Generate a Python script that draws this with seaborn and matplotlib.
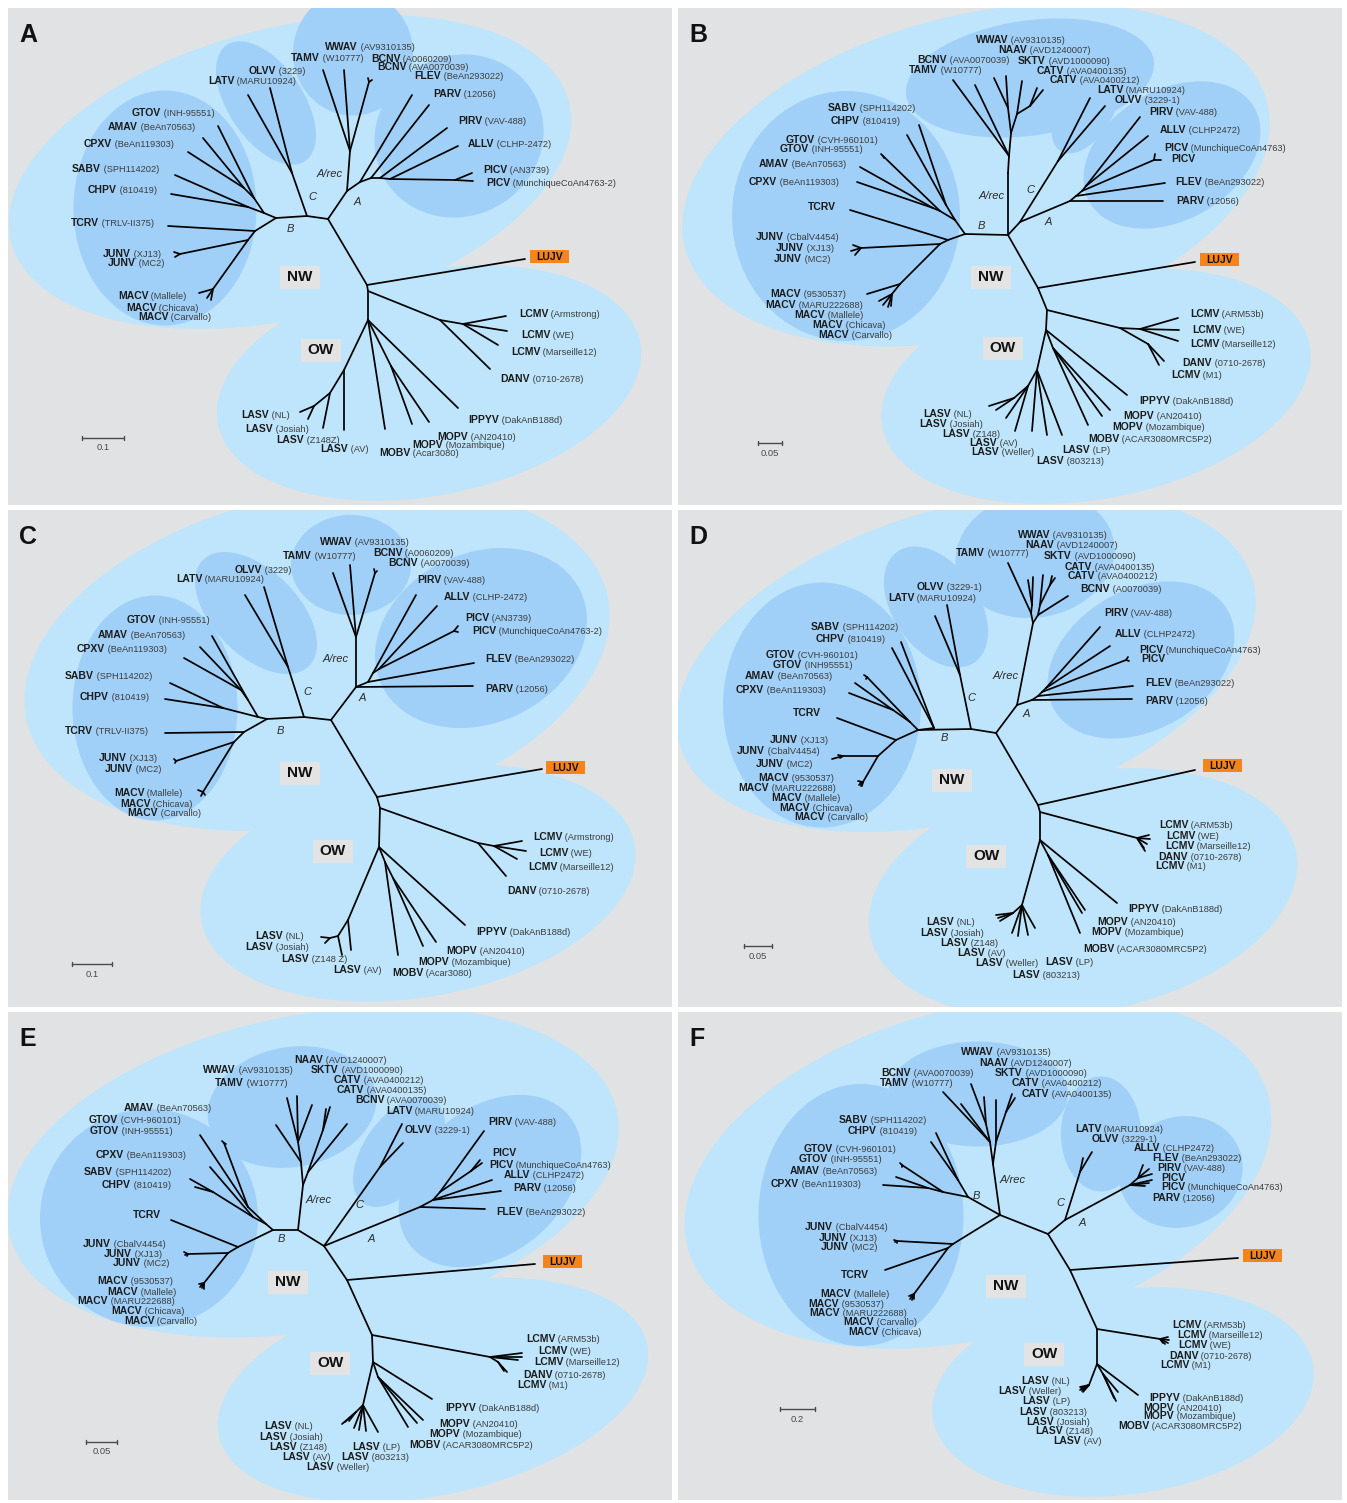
import matplotlib
matplotlib.use("Agg")
import matplotlib.pyplot as plt
from matplotlib.patches import Ellipse, Rectangle
import pandas as pd
import seaborn as sns

sns.set_style("white")
plt.rcParams["font.family"] = ["Liberation Sans", "DejaVu Sans"]

# ---------------------------------------------------------------------------
# Tree layouts: (node, parent, x, y) in panel pixel units (y grows downward)
# ---------------------------------------------------------------------------
TREE_A = [
    ("r", None, 359, 277), ("LUJV", "r", 517, 251), ("x", "r", 320, 211),
    ("cn", "x", 299, 208), ("bn", "cn", 268, 210), ("c1", "cn", 284, 165),
    ("OLVV", "c1", 262, 80), ("LATV", "c1", 240, 87),
    ("an", "x", 339, 183), ("ar", "an", 342, 143),
    ("TAMV", "ar", 315, 62), ("WWAV", "ar", 336, 62), ("bc", "ar", 361, 74),
    ("BCNV1", "bc", 360, 70), ("BCNV2", "bc", 364, 72),
    ("a1", "an", 352, 174), ("FLEV", "a1", 404, 87), ("a2", "a1", 363, 170),
    ("PARV", "a2", 421, 97), ("a3", "a2", 372, 170), ("PIRV", "a3", 439, 120),
    ("a4", "a3", 382, 171), ("ALLV", "a4", 450, 138), ("pc", "a4", 447, 172),
    ("PICV1", "pc", 464, 165), ("PICV2", "pc", 465, 173),
    ("bu", "bn", 256, 205), ("bu1", "bu", 240, 199),
    ("SABV", "bu1", 167, 167), ("CHPV", "bu1", 163, 186),
    ("bu2", "bu", 246, 190), ("GTOV", "bu2", 210, 118), ("bu3", "bu2", 236, 180),
    ("AMAV", "bu3", 195, 130), ("CPXV", "bu3", 180, 144),
    ("bl", "bn", 247, 223), ("TCRV", "bl", 160, 218), ("bl2", "bl", 240, 232),
    ("ju", "bl2", 172, 246), ("JUNV1", "ju", 166, 244), ("JUNV2", "ju", 167, 249),
    ("ma", "bl2", 205, 281), ("MACV1", "ma", 191, 285), ("MACV2", "ma", 199, 290),
    ("MACV3", "ma", 203, 292),
    ("o1", "r", 360, 283), ("lc", "o1", 432, 312), ("DANV", "lc", 482, 361),
    ("lc2", "lc", 455, 316), ("LCMV1", "lc2", 498, 308), ("LCMV2", "lc2", 499, 323),
    ("LCMV3", "lc2", 490, 337),
    ("o2", "o1", 360, 312), ("IPPYV", "o2", 450, 400), ("mp", "o2", 383, 358),
    ("MOPV1", "mp", 404, 416), ("MOPV2", "mp", 421, 414), ("MOBV", "o2", 377, 421),
    ("l1", "o2", 336, 362), ("LASV1", "l1", 336, 422), ("l2", "l1", 322, 385),
    ("LASV2", "l2", 315, 420), ("l3", "l2", 306, 398),
    ("LASV3", "l3", 292, 404), ("LASV4", "l3", 300, 411),
]

TREE_B = [
    ("r", None, 360, 280), ("LUJV", "r", 517, 254), ("x", "r", 330, 227),
    ("bn", "x", 287, 226), ("ar", "x", 330, 165), ("ar1", "ar", 331, 148),
    ("TAMV", "ar1", 275, 72), ("BCNV", "ar1", 297, 77), ("ar2", "ar1", 333, 125),
    ("ar3", "ar2", 330, 100), ("WWAV", "ar3", 316, 70), ("NAAV", "ar3", 328, 68),
    ("ar4", "ar2", 339, 106), ("SKTV", "ar4", 344, 73), ("ct", "ar4", 352, 98),
    ("CATV1", "ct", 359, 80), ("CATV2", "ct", 365, 82),
    ("ca", "x", 342, 214), ("cn", "ca", 380, 153),
    ("LATV", "cn", 412, 90), ("OLVV", "cn", 427, 98),
    ("an", "ca", 392, 193), ("PARV", "an", 485, 193), ("a1", "an", 398, 188),
    ("FLEV", "a1", 487, 175), ("a2", "a1", 404, 183), ("pc", "a2", 476, 152),
    ("PICV1", "pc", 477, 146), ("PICV2", "pc", 483, 152), ("a3", "a2", 408, 178),
    ("ALLV", "a3", 470, 128), ("PIRV", "a3", 462, 109),
    ("bu", "bn", 277, 212), ("bu1", "bu", 268, 197),
    ("CHPV", "bu1", 241, 117), ("SABV", "bu1", 229, 127),
    ("bu2", "bu", 262, 203), ("gt", "bu2", 205, 148),
    ("GTOV1", "gt", 203, 146), ("GTOV2", "gt", 206, 150),
    ("bu3", "bu2", 255, 200), ("AMAV", "bu3", 182, 159), ("CPXV", "bu3", 179, 174),
    ("bl", "bn", 270, 232), ("TCRV", "bl", 172, 202), ("bl2", "bl", 262, 236),
    ("ju", "bl2", 183, 240), ("JUNV1", "ju", 175, 237), ("JUNV2", "ju", 173, 243),
    ("JUNV3", "ju", 177, 247),
    ("m1", "bl2", 222, 276), ("MACV1", "m1", 189, 286), ("m2", "m1", 214, 286),
    ("MACV2", "m2", 201, 293), ("MACV3", "m2", 205, 297), ("MACV4", "m2", 210, 299),
    ("MACV5", "m2", 213, 298),
    ("o1", "r", 369, 302), ("lc", "o1", 442, 320), ("lc2", "lc", 462, 321),
    ("LCMV1", "lc2", 500, 310), ("LCMV2", "lc2", 501, 322), ("LCMV3", "lc2", 500, 333),
    ("dm", "lc", 470, 336), ("DANV", "dm", 486, 353), ("LCMV4", "dm", 481, 357),
    ("o2", "o1", 368, 322), ("IPPYV", "o2", 449, 387), ("mp", "o2", 375, 340),
    ("MOPV1", "mp", 432, 402), ("MOPV2", "mp", 424, 408), ("MOBV", "mp", 410, 417),
    ("l", "o2", 359, 362), ("LASV1", "l", 384, 427), ("LASV2", "l", 369, 427),
    ("LASV3", "l", 354, 423), ("l2", "l", 350, 378), ("LASV4", "l2", 337, 423),
    ("LASV5", "l2", 328, 410), ("l3", "l2", 336, 390),
    ("LASV6", "l3", 318, 402), ("LASV7", "l3", 311, 398),
]

TREE_C = [
    ("r", None, 369, 287), ("LUJV", "r", 534, 259), ("x", "r", 323, 210),
    ("cn", "x", 296, 207), ("bn", "cn", 259, 209), ("c1", "cn", 280, 157),
    ("LATV", "c1", 237, 85), ("OLVV", "c1", 256, 77),
    ("an", "x", 348, 177), ("ar", "an", 348, 127),
    ("TAMV", "ar", 325, 63), ("WWAV", "ar", 342, 55), ("bc", "ar", 367, 63),
    ("BCNV1", "bc", 366, 59), ("BCNV2", "bc", 369, 61),
    ("PARV", "an", 465, 176), ("a1", "an", 360, 172), ("FLEV", "a1", 466, 153),
    ("a2", "a1", 365, 163), ("PIRV", "a2", 408, 85), ("a3", "a2", 371, 159),
    ("ALLV", "a3", 429, 96), ("pc", "a3", 446, 121),
    ("PICV1", "pc", 450, 116), ("PICV2", "pc", 450, 122),
    ("bu", "bn", 250, 207), ("bu1", "bu", 215, 198),
    ("SABV", "bu1", 162, 173), ("CHPV", "bu1", 157, 189),
    ("bu2", "bu", 240, 190), ("GTOV", "bu2", 204, 126), ("bu3", "bu2", 233, 180),
    ("AMAV", "bu3", 192, 137), ("CPXV", "bu3", 176, 148),
    ("bl", "bn", 236, 222), ("TCRV", "bl", 157, 223), ("bl2", "bl", 226, 232),
    ("ju", "bl2", 168, 251), ("JUNV1", "ju", 166, 249), ("JUNV2", "ju", 167, 253),
    ("ma", "bl2", 195, 282), ("MACV1", "ma", 190, 280), ("MACV2", "ma", 193, 286),
    ("MACV3", "ma", 197, 285),
    ("o1", "r", 372, 298), ("lc", "o1", 470, 333), ("DANV", "lc", 498, 366),
    ("lc2", "lc", 486, 336), ("LCMV1", "lc2", 514, 331), ("LCMV2", "lc2", 518, 341),
    ("LCMV3", "lc2", 509, 349),
    ("o2", "o1", 371, 337), ("IPPYV", "o2", 457, 415), ("mp", "o2", 377, 352),
    ("MOBV", "mp", 390, 445), ("mp2", "mp", 385, 368),
    ("MOPV1", "mp2", 428, 432), ("MOPV2", "mp2", 415, 436),
    ("l1", "o2", 340, 410), ("LASV1", "l1", 343, 440), ("l2", "l1", 330, 426),
    ("LASV2", "l2", 334, 445), ("l3", "l2", 322, 428),
    ("LASV3", "l3", 313, 427), ("LASV4", "l3", 317, 433),
]

TREE_D = [
    ("r", None, 360, 295), ("LUJV", "r", 517, 260), ("x", "r", 318, 223),
    ("cn", "x", 293, 219), ("bn", "cn", 240, 220), ("c1", "cn", 282, 165),
    ("OLVV", "c1", 269, 95), ("LATV", "c1", 257, 106),
    ("an", "x", 339, 195), ("ar", "an", 355, 113), ("ar1", "ar", 353, 103),
    ("TAMV", "ar1", 330, 53), ("ar2", "ar1", 354, 95),
    ("WWAV", "ar2", 350, 70), ("NAAV", "ar2", 355, 67),
    ("ar3", "ar", 360, 105), ("BCNV", "ar3", 390, 86), ("ar4", "ar3", 362, 95),
    ("SKTV", "ar4", 365, 65), ("ct", "ar4", 372, 75),
    ("CATV1", "ct", 374, 66), ("CATV2", "ct", 377, 68),
    ("a1", "an", 354, 190), ("PARV", "a1", 454, 189), ("a2", "a1", 360, 186),
    ("FLEV", "a2", 455, 176), ("a3", "a2", 364, 182), ("pc", "a3", 448, 150),
    ("PICV1", "pc", 450, 147), ("PICV2", "pc", 451, 151), ("a4", "a3", 368, 178),
    ("ALLV", "a4", 432, 136), ("PIRV", "a4", 422, 117),
    ("sc", "bn", 256, 218), ("SABV", "sc", 223, 132), ("CHPV", "sc", 214, 138),
    ("bu", "bn", 232, 212), ("gt", "bu", 189, 167),
    ("GTOV1", "gt", 186, 165), ("GTOV2", "gt", 188, 169),
    ("bu2", "bu", 215, 200), ("AMAV", "bu2", 177, 173), ("CPXV", "bu2", 171, 183),
    ("bl", "bn", 218, 230), ("TCRV", "bl", 159, 208), ("bl2", "bl", 200, 246),
    ("ju", "bl2", 165, 246), ("JUNV1", "ju", 154, 249), ("JUNV2", "ju", 160, 245),
    ("JUNV3", "ju", 162, 248),
    ("ma", "bl2", 185, 272), ("MACV1", "ma", 180, 271), ("MACV2", "ma", 181, 275),
    ("MACV3", "ma", 183, 276), ("MACV4", "ma", 184, 276), ("MACV5", "ma", 182, 273),
    ("o1", "r", 362, 302), ("lc", "o1", 459, 328),
    ("LCMV1", "lc", 471, 325), ("LCMV2", "lc", 472, 329), ("LCMV3", "lc", 469, 334),
    ("DANV", "lc", 466, 338), ("LCMV4", "lc", 467, 341),
    ("o2", "o1", 362, 330), ("IPPYV", "o2", 439, 393), ("mp", "o2", 370, 345),
    ("MOPV1", "mp", 407, 400), ("MOPV2", "mp", 404, 403), ("MOBV", "mp", 402, 423),
    ("l", "o2", 344, 395), ("LASV1", "l", 357, 418), ("LASV2", "l", 350, 425),
    ("LASV3", "l", 340, 426), ("LASV4", "l", 334, 423), ("l2", "l", 335, 403),
    ("LASV5", "l2", 322, 411), ("LASV6", "l2", 320, 408), ("LASV7", "l2", 318, 405),
]

TREE_E = [
    ("r", None, 339, 268), ("LUJV", "r", 527, 252), ("x", "r", 316, 234),
    ("cn", "x", 290, 218), ("bn", "cn", 265, 218), ("ar", "cn", 295, 173),
    ("ar1", "ar", 293, 150), ("TAMV", "ar1", 268, 113), ("ar2", "ar1", 290, 130),
    ("WWAV", "ar2", 279, 86), ("NAAV", "ar2", 289, 84), ("SKTV", "ar2", 304, 93),
    ("ar3", "ar", 300, 160), ("ct", "ar3", 315, 118),
    ("CATV1", "ct", 318, 97), ("CATV2", "ct", 322, 95), ("BCNV", "ar3", 339, 112),
    ("cc", "x", 372, 155), ("LATV", "cc", 394, 112), ("OLVV", "cc", 395, 131),
    ("an", "x", 412, 195), ("FLEV", "an", 477, 197), ("a1", "an", 425, 188),
    ("PARV", "a1", 493, 179), ("ALLV", "a1", 484, 168), ("a2", "a1", 432, 180),
    ("pc", "a2", 463, 159), ("PICV1", "pc", 472, 148), ("PICV2", "pc", 474, 151),
    ("PIRV", "a2", 476, 119),
    ("bu", "bn", 258, 212), ("bu1", "bu", 240, 195), ("AMAV", "bu1", 192, 123),
    ("gt", "bu1", 216, 131), ("GTOV1", "gt", 214, 129), ("GTOV2", "gt", 218, 132),
    ("bu2", "bu", 245, 205), ("CPXV", "bu2", 202, 155), ("sc", "bu2", 205, 180),
    ("SABV", "sc", 182, 167), ("CHPV", "sc", 187, 175),
    ("bl", "bn", 230, 235), ("TCRV", "bl", 163, 208), ("bl2", "bl", 220, 241),
    ("ju", "bl2", 180, 242), ("JUNV1", "ju", 176, 240), ("JUNV2", "ju", 177, 243),
    ("JUNV3", "ju", 179, 244),
    ("ma", "bl2", 196, 271), ("MACV1", "ma", 191, 272), ("MACV2", "ma", 192, 275),
    ("MACV3", "ma", 194, 276), ("MACV4", "ma", 196, 277), ("MACV5", "ma", 193, 273),
    ("o1", "r", 364, 323), ("lc", "o1", 482, 345),
    ("LCMV1", "lc", 514, 341), ("LCMV2", "lc", 514, 345), ("LCMV3", "lc", 510, 348),
    ("dm", "lc", 490, 350), ("DANV", "dm", 499, 360), ("LCMV4", "dm", 496, 359),
    ("o2", "o1", 365, 350), ("IPPYV", "o2", 424, 387), ("mp", "o2", 370, 365),
    ("MOPV1", "mp", 415, 408), ("MOPV2", "mp", 409, 411), ("MOBV", "mp", 400, 415),
    ("l", "o2", 355, 393), ("LASV1", "l", 370, 420), ("LASV2", "l", 358, 419),
    ("LASV3", "l", 351, 418), ("LASV4", "l", 346, 416), ("l2", "l", 348, 400),
    ("LASV5", "l2", 334, 412), ("LASV6", "l2", 337, 410), ("LASV7", "l2", 341, 409),
]

TREE_F = [
    ("r", None, 392, 258), ("LUJV", "r", 560, 246), ("x", "r", 370, 222),
    ("bn", "x", 322, 203), ("ar", "bn", 315, 152), ("ar1", "ar", 312, 130),
    ("TAMV", "ar1", 265, 80), ("BCNV", "ar1", 283, 92), ("ar2", "ar1", 308, 112),
    ("WWAV", "ar2", 293, 72), ("NAAV", "ar2", 306, 85),
    ("ar3", "ar", 318, 130), ("SKTV", "ar3", 318, 88), ("ct", "ar3", 328, 100),
    ("CATV1", "ct", 334, 82), ("CATV2", "ct", 337, 86),
    ("ca", "x", 387, 208), ("cn", "ca", 402, 160),
    ("LATV", "cn", 414, 140), ("OLVV", "cn", 405, 146),
    ("an", "ca", 452, 173), ("a1", "an", 460, 166),
    ("ALLV", "a1", 465, 153), ("FLEV", "a1", 471, 157), ("PIRV", "a1", 474, 162),
    ("PICV1", "an", 474, 168), ("PICV2", "an", 471, 171), ("PARV", "an", 467, 174),
    ("bu", "bn", 290, 185), ("sc", "bu", 280, 168),
    ("SABV", "sc", 258, 121), ("CHPV", "sc", 253, 130),
    ("bu2", "bu", 265, 180), ("gt", "bu2", 224, 153),
    ("GTOV1", "gt", 222, 151), ("GTOV2", "gt", 224, 155),
    ("bu3", "bu2", 250, 176), ("AMAV", "bu3", 218, 165), ("CPXV", "bu3", 205, 173),
    ("bl", "bn", 275, 232), ("ju", "bl", 219, 229),
    ("JUNV1", "ju", 216, 228), ("JUNV2", "ju", 217, 230), ("JUNV3", "ju", 219, 231),
    ("bl2", "bl", 270, 236), ("TCRV", "bl2", 207, 258), ("ma", "bl2", 236, 282),
    ("MACV1", "ma", 231, 284), ("MACV2", "ma", 232, 287), ("MACV3", "ma", 234, 288),
    ("MACV4", "ma", 236, 287), ("MACV5", "ma", 233, 285),
    ("o1", "r", 419, 317), ("lc", "o1", 482, 327),
    ("LCMV1", "lc", 490, 325), ("LCMV2", "lc", 491, 328), ("LCMV3", "lc", 490, 331),
    ("DANV", "lc", 487, 332), ("LCMV4", "lc", 485, 331),
    ("o2", "o1", 419, 352), ("IPPYV", "o2", 460, 383), ("mp", "o2", 425, 362),
    ("MOPV1", "mp", 438, 389), ("MOPV2", "mp", 436, 386), ("MOBV", "mp", 440, 380),
    ("l", "o2", 411, 373), ("LASV1", "l", 402, 378), ("LASV2", "l", 403, 376),
    ("LASV3", "l", 404, 379), ("LASV4", "l", 405, 380), ("LASV5", "l", 402, 375),
    ("LASV6", "l", 406, 378), ("LASV7", "l", 404, 377),
]

# ---------------------------------------------------------------------------
# Tip labels: (virus, strain, x of label start, y of label line)
# ---------------------------------------------------------------------------
LABELS_A = [
    ("WWAV", "AV9310135", 317, 39), ("TAMV", "W10777", 283, 50),
    ("BCNV", "A0060209", 363, 51), ("BCNV", "AVA0070039", 369, 59),
    ("OLVV", "3229", 241, 63), ("LATV", "MARU10924", 200, 73),
    ("FLEV", "BeAn293022", 406, 68), ("PARV", "12056", 425, 86),
    ("PIRV", "VAV-488", 450, 113), ("ALLV", "CLHP-2472", 460, 136),
    ("PICV", "AN3739", 475, 162), ("PICV", "MunchiqueCoAn4763-2", 478, 175),
    ("GTOV", "INH-95551", 124, 105), ("AMAV", "BeAn70563", 100, 119),
    ("CPXV", "BeAn119303", 76, 136), ("SABV", "SPH114202", 64, 161),
    ("CHPV", "810419", 80, 182), ("TCRV", "TRLV-II375", 63, 215),
    ("JUNV", "XJ13", 95, 246), ("JUNV", "MC2", 100, 255),
    ("MACV", "Mallele", 110, 288), ("MACV", "Chicava", 118, 300),
    ("MACV", "Carvallo", 130, 309),
    ("LCMV", "Armstrong", 511, 306), ("LCMV", "WE", 513, 327),
    ("LCMV", "Marseille12", 503, 344), ("DANV", "0710-2678", 492, 371),
    ("IPPYV", "DakAnB188d", 460, 412), ("MOPV", "AN20410", 429, 429),
    ("MOPV", "Mozambique", 404, 437), ("MOBV", "Acar3080", 371, 445),
    ("LASV", "NL", 233, 407), ("LASV", "Josiah", 237, 421),
    ("LASV", "Z148Z", 268, 432), ("LASV", "AV", 312, 441),
]

LABELS_B = [
    ("WWAV", "AV9310135", 298, 32), ("NAAV", "AVD1240007", 320, 42),
    ("BCNV", "AVA0070039", 239, 52), ("SKTV", "AVD1000090", 340, 53),
    ("TAMV", "W10777", 231, 62), ("CATV", "AVA0400135", 359, 63),
    ("CATV", "AVA0400212", 372, 72), ("LATV", "MARU10924", 419, 82),
    ("OLVV", "3229-1", 437, 92), ("PIRV", "VAV-488", 471, 104),
    ("ALLV", "CLHP2472", 482, 122), ("PICV", "MunchiqueCoAn4763", 486, 140),
    ("PICV", "", 493, 151), ("FLEV", "BeAn293022", 497, 174),
    ("PARV", "12056", 498, 193),
    ("SABV", "SPH114202", 150, 100), ("CHPV", "810419", 153, 113),
    ("GTOV", "CVH-960101", 108, 132), ("GTOV", "INH-95551", 102, 141),
    ("AMAV", "BeAn70563", 81, 156), ("CPXV", "BeAn119303", 71, 174),
    ("TCRV", "", 130, 199), ("JUNV", "CbalV4454", 78, 229),
    ("JUNV", "XJ13", 98, 240), ("JUNV", "MC2", 96, 251),
    ("MACV", "9530537", 92, 286), ("MACV", "MARU222688", 87, 297),
    ("MACV", "Mallele", 116, 307), ("MACV", "Chicava", 134, 317),
    ("MACV", "Carvallo", 140, 327),
    ("LCMV", "ARM53b", 512, 306), ("LCMV", "WE", 514, 322),
    ("LCMV", "Marseille12", 512, 336), ("DANV", "0710-2678", 504, 355),
    ("LCMV", "M1", 493, 367), ("IPPYV", "DakAnB188d", 461, 393),
    ("MOPV", "AN20410", 445, 408), ("MOPV", "Mozambique", 434, 419),
    ("MOBV", "ACAR3080MRC5P2", 410, 431),
    ("LASV", "NL", 245, 406), ("LASV", "Josiah", 241, 416),
    ("LASV", "Z148", 264, 426), ("LASV", "AV", 291, 435),
    ("LASV", "Weller", 293, 444), ("LASV", "LP", 384, 442),
    ("LASV", "803213", 358, 453),
]

LABELS_C = [
    ("WWAV", "AV9310135", 312, 32), ("TAMV", "W10777", 275, 46),
    ("BCNV", "A0060209", 365, 43), ("BCNV", "A0070039", 380, 53),
    ("OLVV", "3229", 227, 60), ("LATV", "MARU10924", 168, 69),
    ("PIRV", "VAV-488", 409, 70), ("ALLV", "CLHP-2472", 436, 87),
    ("PICV", "AN3739", 457, 108), ("PICV", "MunchiqueCoAn4763-2", 464, 121),
    ("FLEV", "BeAn293022", 477, 149), ("PARV", "12056", 477, 179),
    ("GTOV", "INH-95551", 119, 110), ("AMAV", "BeAn70563", 90, 125),
    ("CPXV", "BeAn119303", 69, 139), ("SABV", "SPH114202", 57, 166),
    ("CHPV", "810419", 72, 187), ("TCRV", "TRLV-II375", 57, 221),
    ("JUNV", "XJ13", 91, 248), ("JUNV", "MC2", 97, 259),
    ("MACV", "Mallele", 106, 283), ("MACV", "Chicava", 112, 294),
    ("MACV", "Carvallo", 119, 303),
    ("LCMV", "Armstrong", 525, 327), ("LCMV", "WE", 531, 343),
    ("LCMV", "Marseille12", 520, 357), ("DANV", "0710-2678", 499, 381),
    ("IPPYV", "DakAnB188d", 468, 422), ("MOPV", "AN20410", 438, 441),
    ("MOPV", "Mozambique", 410, 452), ("MOBV", "Acar3080", 384, 463),
    ("LASV", "NL", 247, 426), ("LASV", "Josiah", 237, 437),
    ("LASV", "Z148 Z", 273, 449), ("LASV", "AV", 325, 460),
]

LABELS_D = [
    ("WWAV", "AV9310135", 340, 25), ("NAAV", "AVD1240007", 347, 35),
    ("TAMV", "W10777", 278, 43), ("SKTV", "AVD1000090", 366, 46),
    ("CATV", "AVA0400135", 387, 57), ("CATV", "AVA0400212", 390, 66),
    ("BCNV", "A0070039", 402, 79), ("OLVV", "3229-1", 239, 77),
    ("LATV", "MARU10924", 210, 88), ("PIRV", "VAV-488", 426, 103),
    ("ALLV", "CLHP2472", 437, 124), ("PICV", "MunchiqueCoAn4763", 461, 140),
    ("PICV", "", 463, 149), ("FLEV", "BeAn293022", 467, 173),
    ("PARV", "12056", 467, 191),
    ("SABV", "SPH114202", 133, 117), ("CHPV", "810419", 138, 129),
    ("GTOV", "CVH-960101", 88, 145), ("GTOV", "INH95551", 95, 155),
    ("AMAV", "BeAn70563", 67, 166), ("CPXV", "BeAn119303", 58, 180),
    ("TCRV", "", 115, 203), ("JUNV", "XJ13", 92, 230),
    ("JUNV", "CbalV4454", 59, 241), ("JUNV", "MC2", 78, 254),
    ("MACV", "9530537", 80, 268), ("MACV", "MARU222688", 60, 278),
    ("MACV", "Mallele", 93, 288), ("MACV", "Chicava", 101, 298),
    ("MACV", "Carvallo", 116, 307),
    ("LCMV", "ARM53b", 481, 315), ("LCMV", "WE", 488, 326),
    ("LCMV", "Marseille12", 487, 336), ("DANV", "0710-2678", 480, 347),
    ("LCMV", "M1", 477, 356), ("IPPYV", "DakAnB188d", 450, 399),
    ("MOPV", "AN20410", 419, 412), ("MOPV", "Mozambique", 413, 422),
    ("MOBV", "ACAR3080MRC5P2", 405, 439),
    ("LASV", "NL", 248, 412), ("LASV", "Josiah", 242, 423),
    ("LASV", "Z148", 262, 433), ("LASV", "AV", 279, 443),
    ("LASV", "Weller", 297, 453), ("LASV", "LP", 367, 452),
    ("LASV", "803213", 334, 465),
]

LABELS_E = [
    ("NAAV", "AVD1240007", 286, 48), ("WWAV", "AV9310135", 195, 58),
    ("SKTV", "AVD1000090", 303, 58), ("CATV", "AVA0400212", 326, 68),
    ("TAMV", "W10777", 207, 71), ("CATV", "AVA0400135", 329, 78),
    ("BCNV", "AVA0070039", 347, 88), ("LATV", "MARU10924", 378, 99),
    ("PIRV", "VAV-488", 480, 110), ("OLVV", "3229-1", 397, 118),
    ("PICV", "", 484, 141), ("PICV", "MunchiqueCoAn4763", 481, 153),
    ("ALLV", "CLHP2472", 496, 163), ("PARV", "12056", 505, 176),
    ("FLEV", "BeAn293022", 488, 200),
    ("AMAV", "BeAn70563", 116, 96), ("GTOV", "CVH-960101", 81, 108),
    ("GTOV", "INH-95551", 82, 119), ("CPXV", "BeAn119303", 88, 143),
    ("SABV", "SPH114202", 76, 160), ("CHPV", "810419", 94, 173),
    ("TCRV", "", 125, 203), ("JUNV", "CbalV4454", 75, 232),
    ("JUNV", "XJ13", 96, 242), ("JUNV", "MC2", 105, 251),
    ("MACV", "9530537", 89, 269), ("MACV", "Mallele", 99, 280),
    ("MACV", "MARU222688", 69, 289), ("MACV", "Chicava", 103, 299),
    ("MACV", "Carvallo", 116, 309),
    ("LCMV", "ARM53b", 518, 327), ("LCMV", "WE", 530, 339),
    ("LCMV", "Marseille12", 526, 350), ("DANV", "0710-2678", 515, 363),
    ("LCMV", "M1", 509, 373), ("IPPYV", "DakAnB188d", 437, 396),
    ("MOPV", "AN20410", 431, 412), ("MOPV", "Mozambique", 421, 422),
    ("MOBV", "ACAR3080MRC5P2", 401, 433),
    ("LASV", "NL", 256, 414), ("LASV", "Josiah", 251, 425),
    ("LASV", "Z148", 261, 435), ("LASV", "AV", 274, 445),
    ("LASV", "Weller", 298, 455), ("LASV", "LP", 344, 435),
    ("LASV", "803213", 333, 445),
]

LABELS_F = [
    ("WWAV", "AV9310135", 283, 40), ("NAAV", "AVD1240007", 301, 51),
    ("BCNV", "AVA0070039", 203, 61), ("SKTV", "AVD1000090", 317, 61),
    ("TAMV", "W10777", 202, 71), ("CATV", "AVA0400212", 334, 71),
    ("CATV", "AVA0400135", 344, 82), ("LATV", "MARU10924", 397, 117),
    ("OLVV", "3229-1", 414, 127), ("ALLV", "CLHP2472", 456, 136),
    ("FLEV", "BeAn293022", 474, 146), ("PIRV", "VAV-488", 479, 156),
    ("PICV", "", 483, 166), ("PICV", "MunchiqueCoAn4763", 483, 175),
    ("PARV", "12056", 474, 186),
    ("SABV", "SPH114202", 161, 108), ("CHPV", "810419", 170, 119),
    ("GTOV", "CVH-960101", 126, 137), ("GTOV", "INH-95551", 121, 147),
    ("AMAV", "BeAn70563", 112, 159), ("CPXV", "BeAn119303", 93, 172),
    ("JUNV", "CbalV4454", 127, 215), ("JUNV", "XJ13", 141, 226),
    ("JUNV", "MC2", 143, 235), ("TCRV", "", 163, 263),
    ("MACV", "Mallele", 142, 282), ("MACV", "9530537", 130, 292),
    ("MACV", "MARU222688", 131, 301), ("MACV", "Carvallo", 165, 310),
    ("MACV", "Chicava", 170, 320),
    ("LCMV", "ARM53b", 494, 313), ("LCMV", "Marseille12", 499, 323),
    ("LCMV", "WE", 500, 333), ("DANV", "0710-2678", 491, 344),
    ("LCMV", "M1", 482, 353),
    ("LASV", "NL", 343, 369), ("LASV", "Weller", 320, 379),
    ("LASV", "LP", 344, 389), ("LASV", "803213", 341, 400),
    ("LASV", "Josiah", 348, 410), ("LASV", "Z148", 357, 419),
    ("LASV", "AV", 375, 429),
    ("IPPYV", "DakAnB188d", 471, 386), ("MOPV", "AN20410", 465, 396),
    ("MOPV", "Mozambique", 465, 404), ("MOBV", "ACAR3080MRC5P2", 440, 414),
]

# Lineage tags on internal branches: (text, x, y)
CLADES_A = [("B", 282, 221), ("C", 304, 189), ("A/rec", 322, 166), ("A", 349, 194)]
CLADES_B = [("B", 303, 218), ("A/rec", 314, 188), ("C", 352, 182), ("A", 370, 214)]
CLADES_C = [("B", 272, 221), ("C", 299, 182), ("A/rec", 328, 149), ("A", 354, 188)]
CLADES_D = [("B", 266, 228), ("C", 293, 188), ("A/rec", 328, 166), ("A", 348, 204)]
CLADES_E = [("B", 273, 227), ("A/rec", 311, 188), ("C", 351, 193), ("A", 363, 227)]
CLADES_F = [("B", 298, 184), ("A/rec", 335, 168), ("C", 382, 191), ("A", 404, 211)]

# New World / Old World tag centres
GROUPS_A = [("NW", 292, 269), ("OW", 313, 342)]
GROUPS_B = [("NW", 313, 269), ("OW", 325, 340)]
GROUPS_C = [("NW", 292, 263), ("OW", 325, 341)]
GROUPS_D = [("NW", 274, 270), ("OW", 308, 346)]
GROUPS_E = [("NW", 280, 270), ("OW", 322, 351)]
GROUPS_F = [("NW", 328, 274), ("OW", 366, 342)]

# Outgroup tag corner (x, y)
LUJV_A, LUJV_B, LUJV_C = (522, 242), (522, 245), (538, 251)
LUJV_D, LUJV_E, LUJV_F = (525, 249), (535, 243), (565, 237)

# Scale bars: (label, bar length, x start, y)
SCALE_A = ("0.1", 42, 74, 430)
SCALE_B = ("0.05", 24, 80, 435)
SCALE_C = ("0.1", 40, 64, 454)
SCALE_D = ("0.05", 28, 66, 436)
SCALE_E = ("0.05", 31, 78, 430)
SCALE_F = ("0.2", 35, 102, 397)

# Shaded groupings: (cx, cy, width, height, tilt in degrees, shade)
HULLS_A = [(282, 164, 575, 290, 14, "l"), (421, 375, 430, 225, 11, "l"),
           (157, 200, 183, 235, 0, "d"), (258, 95, 140, 75, -56, "d"),
           (345, 45, 120, 125, 0, "d"), (451, 128, 172, 160, 30, "d")]
HULLS_B = [(298, 167, 600, 320, 14, "l"), (418, 378, 435, 225, 11, "l"),
           (168, 208, 228, 250, 0, "d"), (352, 70, 250, 115, 8, "d"),
           (408, 100, 100, 55, 60, "d"), (494, 147, 190, 130, 30, "d")]
HULLS_C = [(309, 148, 594, 330, 12, "l"), (410, 373, 440, 228, 10, "l"),
           (147, 198, 165, 225, 0, "d"), (248, 103, 150, 85, -45, "d"),
           (343, 55, 120, 100, 0, "d"), (473, 128, 220, 170, 25, "d")]
HULLS_D = [(288, 152, 596, 310, 16, "l"), (405, 383, 434, 240, 11, "l"),
           (144, 195, 198, 245, 0, "d"), (258, 97, 135, 85, -55, "d"),
           (357, 45, 160, 125, 10, "d"), (463, 150, 200, 140, 30, "d")]
HULLS_E = [(305, 160, 620, 315, 11, "l"), (425, 378, 438, 210, 12, "l"),
           (141, 206, 218, 218, 0, "d"), (284, 95, 170, 120, 10, "d"),
           (391, 140, 125, 70, 55, "d"), (482, 169, 205, 145, 40, "d")]
HULLS_F = [(300, 160, 600, 330, 14.5, "l"), (445, 380, 384, 205, 7.5, "l"),
           (183, 203, 205, 262, 0, "d"), (300, 82, 180, 105, 0, "d"),
           (423, 122, 80, 115, 0, "d"), (503, 160, 125, 110, 20, "d")]

PANELS = {
    "A": (TREE_A, LABELS_A, CLADES_A, GROUPS_A, LUJV_A, SCALE_A, HULLS_A),
    "B": (TREE_B, LABELS_B, CLADES_B, GROUPS_B, LUJV_B, SCALE_B, HULLS_B),
    "C": (TREE_C, LABELS_C, CLADES_C, GROUPS_C, LUJV_C, SCALE_C, HULLS_C),
    "D": (TREE_D, LABELS_D, CLADES_D, GROUPS_D, LUJV_D, SCALE_D, HULLS_D),
    "E": (TREE_E, LABELS_E, CLADES_E, GROUPS_E, LUJV_E, SCALE_E, HULLS_E),
    "F": (TREE_F, LABELS_F, CLADES_F, GROUPS_F, LUJV_F, SCALE_F, HULLS_F),
}

# Panel frames in figure pixels: (left, top, width, height)
FRAMES = {
    "A": (8, 8, 664, 497), "B": (678, 8, 664, 497),
    "C": (8, 510, 664, 497), "D": (678, 510, 664, 497),
    "E": (8, 1012, 664, 488), "F": (678, 1012, 664, 488),
}

FIG_W, FIG_H = 1347, 1503
PANEL_BG = "#E1E2E4"
LIGHT = "#BEE5FB"
DARK = "#A0D0F7"
TAG_BG = "#E3E3E3"
ORANGE = "#F5841A"


def edge_table(rows):
    pos = {nid: (x, y) for nid, _, x, y in rows}
    recs = []
    for i, (nid, parent, x, y) in enumerate(rows):
        if parent is None:
            continue
        px, py = pos[parent]
        recs.append({"edge": i, "x": px, "y": py})
        recs.append({"edge": i, "x": x, "y": y})
    return pd.DataFrame(recs)


def draw_panel(ax, letter, w, h):
    tree, labels, clades, groups, lujv, scale, hulls = PANELS[letter]
    ax.set_facecolor(PANEL_BG)

    for cx, cy, ew, eh, tilt, shade in hulls:
        ax.add_patch(Ellipse((cx, cy), ew, eh, angle=-tilt, lw=0,
                             facecolor=LIGHT if shade == "l" else DARK, zorder=0.5))

    sns.lineplot(data=edge_table(tree), x="x", y="y", units="edge",
                 estimator=None, sort=False, color="black", linewidth=1.25,
                 solid_capstyle="round", legend=False, ax=ax, zorder=2)

    for name, strain, x, y in labels:
        t = ax.text(x, y, name, fontsize=7.5, fontweight="bold", color="#1b1b1b",
                    ha="left", va="center", zorder=4)
        if strain:
            ax.annotate(f" ({strain})", xy=(1, 0), xycoords=t, fontsize=6.7,
                        color="#3d3d3d", ha="left", va="bottom", zorder=4)

    for text, x, y in clades:
        ax.text(x, y, text, fontsize=8, style="italic", color="#2a2a2a",
                ha="center", va="center", zorder=4)

    for text, x, y in groups:
        ax.add_patch(Rectangle((x - 20, y - 11.5), 40, 23, facecolor=TAG_BG,
                               lw=0, zorder=3))
        ax.text(x, y, text, fontsize=11, fontweight="bold", color="#111111",
                ha="center", va="center", zorder=4)

    lx, ly = lujv
    ax.add_patch(Rectangle((lx, ly), 39, 13, facecolor=ORANGE, lw=0, zorder=3))
    ax.text(lx + 19.5, ly + 6.8, "LUJV", fontsize=7.5, fontweight="bold",
            color="#111111", ha="center", va="center", zorder=4)

    label, length, sx, sy = scale
    ax.plot([sx, sx + length], [sy, sy], color="#4a4a4a", lw=1.0)
    ax.plot([sx, sx], [sy - 2, sy + 2], color="#4a4a4a", lw=1.0)
    ax.plot([sx + length, sx + length], [sy - 2, sy + 2], color="#4a4a4a", lw=1.0)
    ax.text(sx + length / 2, sy + 10, label, fontsize=6.8, color="#4a4a4a",
            ha="center", va="center")

    ax.text(11, 27, letter, fontsize=18, fontweight="bold", color="#111111",
            ha="left", va="center")

    ax.set_xlim(0, w)
    ax.set_ylim(h, 0)
    ax.set_xlabel("")
    ax.set_ylabel("")
    ax.set_xticks([])
    ax.set_yticks([])
    for s in ax.spines.values():
        s.set_visible(False)


fig = plt.figure(figsize=(FIG_W / 100, FIG_H / 100), dpi=100, facecolor="white")
for letter, (left, top, w, h) in FRAMES.items():
    ax = fig.add_axes([left / FIG_W, 1 - (top + h) / FIG_H, w / FIG_W, h / FIG_H])
    draw_panel(ax, letter, w, h)

fig.savefig("out.png", dpi=100, facecolor="white")
